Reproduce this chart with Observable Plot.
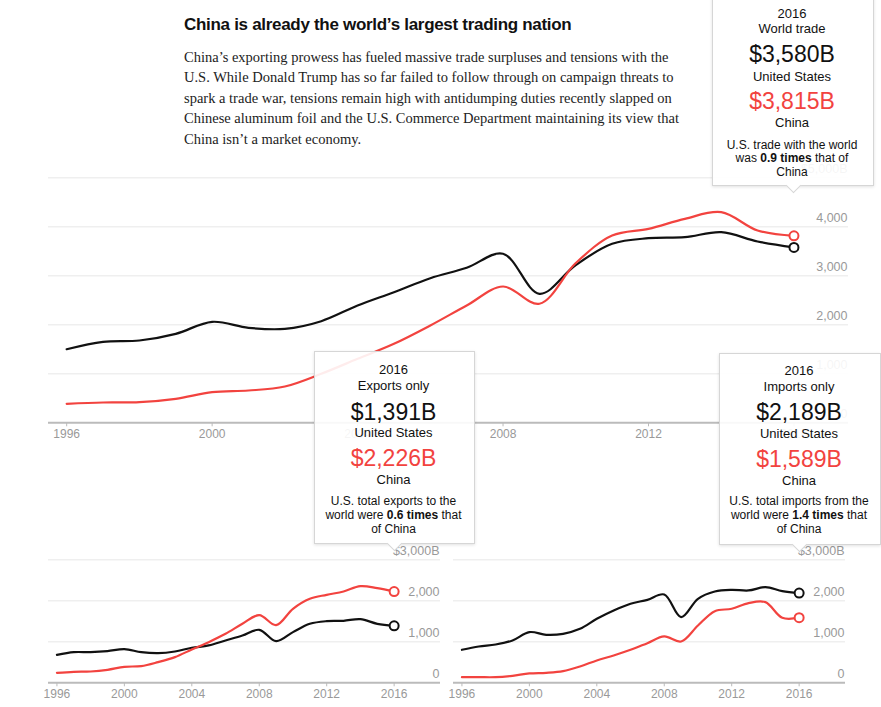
<!DOCTYPE html>
<html><head><meta charset="utf-8">
<script src="https://cdn.jsdelivr.net/npm/d3@7"></script>
<script src="https://cdn.jsdelivr.net/npm/@observablehq/plot@0.6"></script>
<style>
body{margin:0;background:#fff;}
#page{position:relative;width:881px;height:707px;overflow:hidden;background:#fff;font-family:"Liberation Sans",Arial,sans-serif;}
.chart{position:absolute;}
.title{position:absolute;left:184px;top:14.5px;font-weight:bold;font-size:17px;color:#111;letter-spacing:-0.3px;white-space:nowrap}
.sub{position:absolute;left:184px;top:46.5px;font-family:"Liberation Serif",serif;font-size:14.5px;line-height:20.6px;color:#222;white-space:nowrap}
.box{position:absolute;background:rgba(255,255,255,0.9);border:1px solid #d6d6d6;box-shadow:0 1px 3px rgba(0,0,0,0.12);}
.ptr{position:absolute;width:10px;height:10px;background:#fff;border-right:1px solid #d6d6d6;border-bottom:1px solid #d6d6d6;transform:rotate(45deg);}
.ln{position:absolute;width:220px;text-align:center;white-space:nowrap;color:#111;}
</style></head>
<body><div id="page"></div>
<script>
// ---- data ----
const years = [1996,1997,1998,1999,2000,2001,2002,2003,2004,2005,2006,2007,2008,2009,2010,2011,2012,2013,2014,2015,2016];
const usTrade    = [1502,1653,1680,1816,2061,1939,1918,2074,2394,2666,2951,3163,3449,2633,3220,3653,3767,3788,3890,3700,3580];
const chinaTrade = [388,414,421,489,625,659,741,1000,1306,1612,1986,2394,2782,2429,3260,3822,3959,4163,4299,3925,3815];
const usExports    = [683,748,748,772,821,748,724,764,854,911,1033,1154,1293,1016,1236,1439,1504,1512,1553,1439,1391];
const chinaExports = [244,268,276,317,390,407,504,626,813,992,1195,1439,1650,1407,1805,2049,2146,2228,2358,2309,2226];
const usImports    = [805,886,935,1033,1236,1171,1195,1317,1561,1764,1927,2024,2154,1602,2049,2228,2268,2252,2333,2236,2189];
const chinaImports = [138,138,138,171,228,244,285,398,545,667,805,967,1130,1008,1398,1748,1805,1943,1967,1585,1589];
const xTicks = [1996,2000,2004,2008,2012,2016];
const mainYTicks = [0,1000,2000,3000,4000,5000];
const smallYTicks = [0,1000,2000,3000];
const titleText = "China is already the world’s largest trading nation";
const subLines = [
  "China’s exporting prowess has fueled massive trade surpluses and tensions with the",
  "U.S. While Donald Trump has so far failed to follow through on campaign threats to",
  "spark a trade war, tensions remain high with antidumping duties recently slapped on",
  "Chinese aluminum foil and the U.S. Commerce Department maintaining its view that",
  "China isn’t a market economy."
];

const RED = "#f2433f", BLACK = "#111";
const page = document.getElementById("page");
const rows = arr => years.map((y,i)=>({year:y, value:arr[i]}));
const fmtNum = d3.format(",");

function chart(o){
  const lastUS = rows(o.us).slice(-1), lastCN = rows(o.cn).slice(-1);
  const top = o.yTicks[o.yTicks.length-1];
  const svg = Plot.plot({
    width:o.width, height:o.height,
    marginLeft:o.mL, marginRight:o.mR, marginTop:o.mT, marginBottom:o.mB,
    x:{domain:o.xDomain, label:null},
    y:{domain:[0, top], label:null, axis:null},
    style:{fontFamily:"Liberation Sans, Arial, sans-serif", background:"transparent", overflow:"visible"},
    marks:[
      Plot.ruleY(o.yTicks.filter(d=>d>0), {stroke:"#efefef", strokeWidth:1.5}),
      Plot.axisX({ticks:xTicks, tickFormat:d=>String(d), tickSize:4, tickPadding:3, stroke:"#bbb", fill:"#999", fontSize:12, label:null}),
      Plot.ruleY([0], {stroke:"#bbb", strokeWidth:2}),
      Plot.text(o.yTicks, {y:d=>d, frameAnchor:"right", textAnchor:"end", dx:-1, dy:-8.5,
        text:d=> d===top ? "$"+fmtNum(d)+"B" : fmtNum(d), fill:"#999", fontSize:12.5}),
      Plot.line(rows(o.us), {x:"year", y:"value", stroke:BLACK, strokeWidth:2.2, curve:"catmull-rom"}),
      Plot.line(rows(o.cn), {x:"year", y:"value", stroke:RED, strokeWidth:2.2, curve:"catmull-rom"}),
      Plot.dot(lastUS, {x:"year", y:"value", r:4.5, fill:"white", stroke:BLACK, strokeWidth:2}),
      Plot.dot(lastCN, {x:"year", y:"value", r:4.5, fill:"white", stroke:RED, strokeWidth:2})
    ]
  });
  svg.classList.add("chart");
  svg.style.left = o.left+"px"; svg.style.top = o.top+"px";
  page.appendChild(svg);
}

chart({us:usTrade, cn:chinaTrade, yTicks:mainYTicks, width:881, height:450, left:0, top:0,
  mL:48, mR:33, mT:177.3, mB:27.7, xDomain:[1995.5,2017.5]});
chart({us:usExports, cn:chinaExports, yTicks:smallYTicks, width:440, height:177, left:0, top:530,
  mL:48, mR:0, mT:29.3, mB:24.7, xDomain:[1995.5,2018.75]});
chart({us:usImports, cn:chinaImports, yTicks:smallYTicks, width:441, height:177, left:440, top:530,
  mL:13, mR:36, mT:29.3, mB:24.7, xDomain:[1995.5,2018.75]});

// ---- title & subtitle ----
const t = document.createElement("div"); t.className="title"; t.textContent=titleText; page.appendChild(t);
const s = document.createElement("div"); s.className="sub"; s.innerHTML=subLines.join("<br>"); page.appendChild(s);

// ---- tooltips ----
function el(cls, css){ const d=document.createElement("div"); d.className=cls; Object.assign(d.style,css); page.appendChild(d); return d; }
function line(html, cx, cy, size, color){
  const d = el("ln", {left:(cx-110)+"px", top:(cy-size*0.6)+"px", fontSize:size+"px", lineHeight:(size*1.2)+"px"});
  if(color) d.style.color=color;
  d.innerHTML = html;
}
function box(b){
  el("box", {left:b.x0+"px", top:b.y0+"px", width:(b.x1-b.x0)+"px", height:(b.y1-b.y0)+"px"});
  el("ptr", {left:(b.px-5)+"px", top:(b.y1-4)+"px"});
  const cx=(b.x0+b.x1)/2, L=b.lines;
  line(String(years[years.length-1]), cx, L[0], 13);
  line(b.label, cx, L[1], 13);
  line("$"+fmtNum(b.us[b.us.length-1])+"B", cx, L[2], 23, BLACK);
  line("United States", cx, L[3], 13);
  line("$"+fmtNum(b.cn[b.cn.length-1])+"B", cx, L[4], 23, RED);
  line("China", cx, L[5], 13);
  const ratio = (b.us[b.us.length-1]/b.cn[b.cn.length-1]).toFixed(1);
  const d = b.desc(ratio);
  line(d[0], cx, L[6], 12); line(d[1], cx, L[7], 12); line(d[2], cx, L[8], 12);
}
box({x0:712, y0:-6, x1:872, y1:184, px:793, us:usTrade, cn:chinaTrade, label:"World trade",
  lines:[14,29,55,77,102,123,145,158.5,172],
  desc:r=>["U.S. trade with the world", "was <b>"+r+" times</b> that of", "China"]});
box({x0:314, y0:351, x1:473, y1:542, px:394, us:usExports, cn:chinaExports, label:"Exports only",
  lines:[370,386,413,433,459,480,500.7,515,529],
  desc:r=>["U.S. total exports to the", "world were <b>"+r+" times</b> that", "of China"]});
box({x0:719, y0:353, x1:879, y1:543, px:799, us:usImports, cn:chinaImports, label:"Imports only",
  lines:[371,387,413,434,460,481,501,515,529],
  desc:r=>["U.S. total imports from the", "world were <b>"+r+" times</b> that", "of China"]});
</script></body></html>
